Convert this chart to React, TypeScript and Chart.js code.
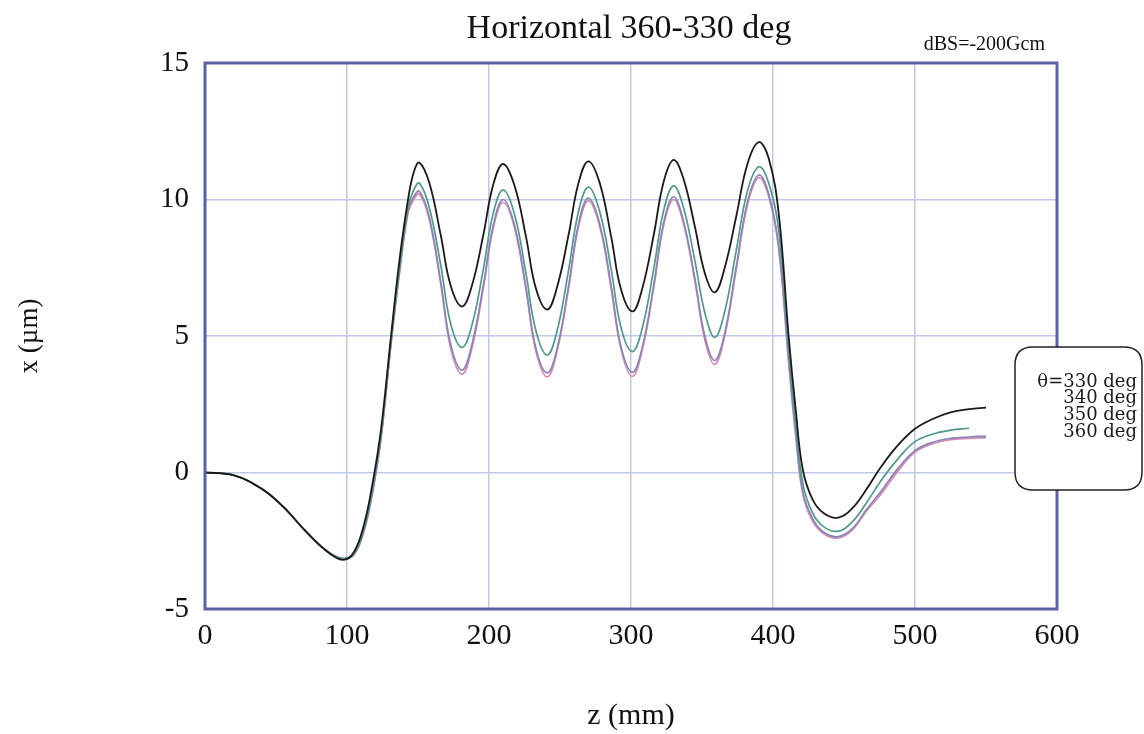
import React, { useEffect, useRef } from "react";
import { Chart, registerables } from "chart.js";

Chart.register(...registerables);

const Z_MM = [0, 20, 40, 55, 70, 85, 97, 105, 112, 118, 124, 131, 137, 143, 147, 151, 158, 166, 173, 181, 188, 196, 203, 210, 218, 226, 233, 241, 248, 256, 263, 270, 278, 286, 293, 301, 308, 316, 323, 330, 337, 345, 352, 359, 366, 374, 382, 390, 397, 404, 411, 416, 421, 428, 436, 446, 456, 466, 476, 488, 500, 512, 525, 538, 550];

const X_330 = [0, -0.1, -0.6, -1.25, -2.1, -2.85, -3.2, -2.9, -1.9, -0.4,
  1.6, 5.0, 7.8, 10.0, 11.0, 11.35, 10.6, 8.7, 6.85, 6.08,
  6.85, 8.7, 10.55, 11.3, 10.5, 8.65, 6.75, 5.97, 6.8, 8.7,
  10.6, 11.4, 10.6, 8.65, 6.7, 5.9, 6.75, 8.7, 10.65, 11.45,
  10.75, 9.0, 7.3, 6.6, 7.5, 9.35, 11.3, 12.1, 11.5, 9.5,
  5.0, 2.3, 0.1, -1.0, -1.5, -1.65, -1.3, -0.6, 0.2, 1.0,
  1.6, 1.95, 2.2, 2.32, 2.38];

const X_340 = [0, -0.1, -0.6, -1.25, -2.1, -2.85, -3.15, -2.95, -2.05, -0.6,
  1.4, 4.8, 7.5, 9.7, 10.35, 10.6, 9.7, 7.6, 5.45, 4.58,
  5.4, 7.45, 9.5, 10.35, 9.45, 7.3, 5.2, 4.3, 5.2, 7.4,
  9.55, 10.45, 9.55, 7.45, 5.3, 4.43, 5.3, 7.45, 9.6, 10.5,
  9.7, 7.75, 5.85, 4.95, 5.9, 8.1, 10.3, 11.2, 10.6, 8.9,
  4.5, 1.8, -0.4, -1.5, -2.0, -2.15, -1.8, -1.1, -0.3, 0.5,
  1.13, 1.4, 1.55, 1.62, null];

const X_350 = [0, -0.1, -0.6, -1.25, -2.1, -2.85, -3.15, -3.0, -2.1, -0.7,
  1.3, 4.75, 7.4, 9.6, 10.1, 10.3, 9.35, 7.0, 4.7, 3.75,
  4.7, 6.85, 9.05, 10.0, 9.05, 6.8, 4.55, 3.65, 4.55, 6.82,
  9.1, 10.05, 9.1, 6.85, 4.6, 3.67, 4.6, 6.86, 9.15, 10.1,
  9.2, 7.1, 5.0, 4.1, 5.1, 7.5, 9.9, 10.9, 10.2, 8.3,
  4.2, 1.5, -0.7, -1.7, -2.2, -2.35, -2.05, -1.35, -0.7, 0.15,
  0.8, 1.1, 1.25, 1.3, 1.33];

const X_360 = [0, -0.1, -0.6, -1.25, -2.1, -2.85, -3.15, -3.0, -2.15, -0.75,
  1.25, 4.7, 7.3, 9.5, 10.0, 10.2, 9.25, 6.9, 4.55, 3.6,
  4.55, 6.75, 8.95, 9.9, 8.95, 6.7, 4.45, 3.5, 4.45, 6.72,
  9.0, 9.95, 9.0, 6.74, 4.5, 3.52, 4.5, 6.76, 9.05, 10.0,
  9.1, 7.0, 4.85, 3.96, 5.0, 7.4, 9.8, 10.8, 10.1, 8.2,
  4.0, 1.3, -0.8, -1.8, -2.25, -2.4, -2.1, -1.4, -0.8, 0.05,
  0.75, 1.05, 1.2, 1.25, 1.28];

const SERIES_NAMES = ["θ=330 deg", "340 deg", "350 deg", "360 deg"];
const SERIES_COLORS = ["#1a1a1a", "#4f9a8c", "#8a84b8", "#d98cb5"];
const SERIES_VALUES = [X_330, X_340, X_350, X_360];

const X_TICKS = [0, 100, 200, 300, 400, 500, 600];
const Y_TICKS = [-5, 0, 5, 10, 15];

const TITLE = "Horizontal 360-330 deg";
const SUBTITLE = "dBS=-200Gcm";
const X_TITLE = "z (mm)";
const Y_TITLE = "x (µm)";

const SERIF = "'Liberation Serif', 'DejaVu Serif', serif";
const LEGEND_FONT = "'DejaVu Serif', 'Liberation Serif', serif";

const decorPlugin = {
  id: "decor",
  afterDatasetsDraw(chart: any) {
    const { ctx, chartArea } = chart;
    const { left, right, top, bottom } = chartArea;
    ctx.save();
    // frame
    ctx.strokeStyle = "#5b5fa8";
    ctx.lineWidth = 3;
    ctx.strokeRect(left, top, right - left, bottom - top);

    // title
    ctx.fillStyle = "#111";
    ctx.textAlign = "center";
    ctx.textBaseline = "middle";
    ctx.font = `34px ${SERIF}`;
    ctx.fillText(TITLE, (left + right) / 2 - 2, 29);

    ctx.font = `20px ${SERIF}`;
    ctx.textAlign = "right";
    ctx.fillText(SUBTITLE, right - 12, 45);

    // axis titles
    ctx.textAlign = "center";
    ctx.font = `30px ${SERIF}`;
    ctx.fillText(X_TITLE, (left + right) / 2, 716);
    ctx.font = `27px ${SERIF}`;
    ctx.save();
    ctx.translate(30, (top + bottom) / 2);
    ctx.rotate(-Math.PI / 2);
    ctx.fillText(Y_TITLE, 0, 0);
    ctx.restore();

    // legend box
    const bx = 1015, by = 347, bw = 127, bh = 143, r = 18;
    ctx.beginPath();
    ctx.moveTo(bx + r, by);
    ctx.lineTo(bx + bw - r, by);
    ctx.quadraticCurveTo(bx + bw, by, bx + bw, by + r);
    ctx.lineTo(bx + bw, by + bh - r);
    ctx.quadraticCurveTo(bx + bw, by + bh, bx + bw - r, by + bh);
    ctx.lineTo(bx + r, by + bh);
    ctx.quadraticCurveTo(bx, by + bh, bx, by + bh - r);
    ctx.lineTo(bx, by + r);
    ctx.quadraticCurveTo(bx, by, bx + r, by);
    ctx.closePath();
    ctx.fillStyle = "#ffffff";
    ctx.fill();
    ctx.strokeStyle = "#222";
    ctx.lineWidth = 1.5;
    ctx.stroke();

    ctx.fillStyle = "#1a1a1a";
    ctx.textAlign = "right";
    ctx.font = `18px ${LEGEND_FONT}`;
    SERIES_NAMES.forEach((name, i) => {
      ctx.fillText(name, 1137, 382 + i * 16.7);
    });
    ctx.restore();
  },
};

export default function App() {
  const ref = useRef<HTMLCanvasElement | null>(null);

  useEffect(() => {
    document.body.style.margin = "0";
    document.body.style.overflow = "hidden";
    const canvas = ref.current;
    if (!canvas) return;
    const datasets = SERIES_VALUES.map((vals, i) => ({
      label: SERIES_NAMES[i],
      data: Z_MM.map((z, j) => ({ x: z, y: vals[j] })),
      borderColor: SERIES_COLORS[i],
      backgroundColor: SERIES_COLORS[i],
      borderWidth: i === 0 ? 1.8 : 1.7,
      pointRadius: 0,
      showLine: true,
      fill: false,
      tension: 0.4,
      spanGaps: false,
    }));

    const chart = new Chart(canvas, {
      type: "scatter",
      data: { datasets },
      options: {
        responsive: false,
        animation: false,
        layout: { padding: { left: 0, right: 87, top: 63, bottom: 0 } },
        plugins: {
          legend: { display: false },
          title: { display: false },
          tooltip: { enabled: false },
        },
        scales: {
          x: {
            type: "linear",
            min: 0,
            max: 600,
            afterBuildTicks: (axis: any) => {
              axis.ticks = X_TICKS.map((v) => ({ value: v }));
            },
            afterFit: (axis: any) => {
              axis.height = 125;
            },
            ticks: {
              color: "#111",
              font: { family: SERIF, size: 30 },
              padding: 9,
              maxRotation: 0,
            },
            grid: { color: "#bfc9e6", lineWidth: 1.5, drawTicks: false },
            border: { display: false },
          },
          y: {
            type: "linear",
            min: -5,
            max: 15,
            afterBuildTicks: (axis: any) => {
              axis.ticks = Y_TICKS.map((v) => ({ value: v }));
            },
            afterFit: (axis: any) => {
              axis.width = 205;
            },
            ticks: {
              color: "#111",
              font: { family: SERIF, size: 29 },
              padding: 16,
            },
            grid: { color: "#bfc9e6", lineWidth: 1.5, drawTicks: false },
            border: { display: false },
          },
        },
      },
      plugins: [decorPlugin],
    });
    return () => chart.destroy();
  }, []);

  return (
    <div style={{ width: 1144, height: 734, background: "#fff" }}>
      <canvas ref={ref} width={1144} height={734} style={{ display: "block" }} />
    </div>
  );
}
